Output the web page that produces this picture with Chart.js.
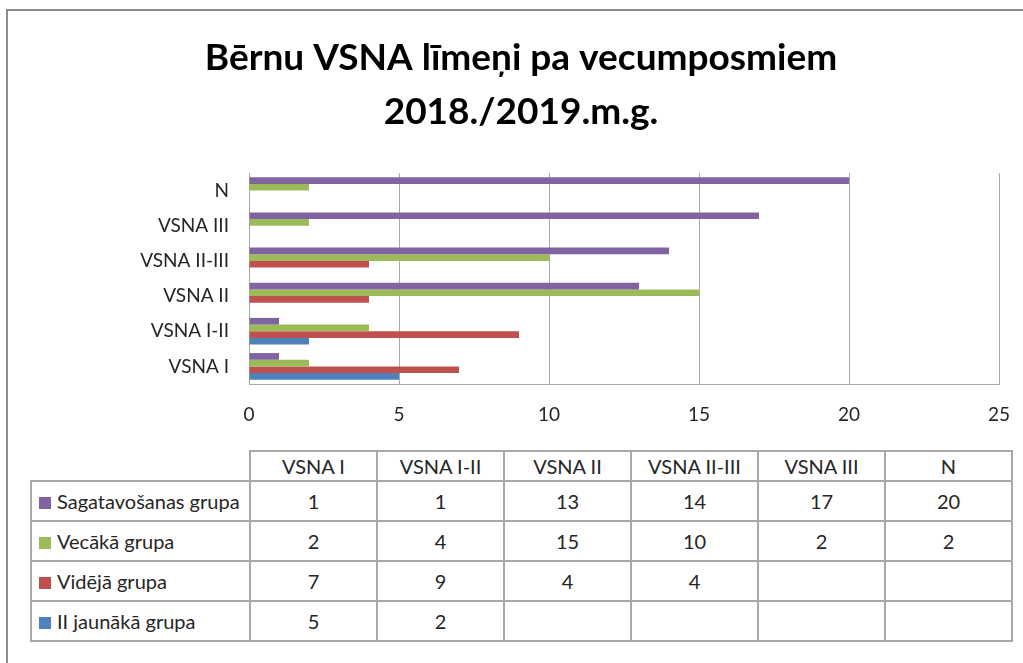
<!DOCTYPE html>
<html>
<head>
<meta charset="utf-8">
<script src="https://cdn.jsdelivr.net/npm/chart.js@4.4.6/dist/chart.umd.min.js"></script>
<style>
html, body { margin: 0; padding: 0; background: #fff; }
#page { position: relative; width: 1023px; height: 663px; overflow: hidden; font-family: Lato, sans-serif; }
#frame { position: absolute; left: 6px; top: 9px; width: 1100px; height: 700px; border-left: 2px solid #8c8c8c; border-top: 2px solid #8c8c8c; }
#chartBox { position: absolute; left: 0; top: 0; width: 1023px; height: 445px; }
#dataTable { position: absolute; left: 30px; top: 450px; border-collapse: collapse; table-layout: fixed; font-size: 20px; color: #262626; }
#dataTable td, #dataTable th { border: 2px solid #a8a8a8; padding: 0; font-weight: normal; text-align: center; white-space: nowrap; }
#dataTable th { height: 28px; }
#dataTable td { height: 38px; }
#dataTable th.blank { border-top: none; border-left: none; }
#dataTable td.name { text-align: left; padding-left: 7px; }
.key { display: inline-block; width: 12px; height: 12px; margin-right: 6px; vertical-align: 0px; }
</style>
</head>
<body>
<div id="page">
  <div id="frame"></div>
  <div id="chartBox"><canvas id="chart" width="1023" height="445"></canvas></div>
  <table id="dataTable"></table>
</div>
<script>
// kategorijas (no apakšas uz augšu) un grupu vērtības
const categories = ['VSNA I', 'VSNA I-II', 'VSNA II', 'VSNA II-III', 'VSNA III', 'N']
const seriesNames = ['Sagatavošanas grupa', 'Vecākā grupa', 'Vidējā grupa', 'II jaunākā grupa']
const sagatavosanas = [1, 1, 13, 14, 17, 20]
const vecaka = [2, 4, 15, 10, 2, 2]
const videja = [7, 9, 4, 4, null, null]
const jaunaka = [5, 2, null, null, null, null]
const seriesColors = ['#8064A2', '#9BBB59', '#C0504D', '#4F81BD']
const xMin = 0
const xMax = 25
const xStep = 5
const titleLines = ['Bērnu VSNA līmeņi pa vecumposmiem', '2018./2019.m.g.']

const seriesValues = [sagatavosanas, vecaka, videja, jaunaka]
const gridColor = '#a8a8a8'
const textColor = '#262626'

new Chart(document.getElementById('chart'), {
  type: 'bar',
  data: {
    labels: categories,
    datasets: seriesNames.map((name, i) => ({
      label: name,
      data: seriesValues[i],
      backgroundColor: seriesColors[i],
      borderWidth: 0,
      categoryPercentage: 0.76,
      barPercentage: 1.0
    }))
  },
  options: {
    indexAxis: 'y',
    responsive: false,
    animation: false,
    layout: { padding: { left: 43, right: 24, top: 0, bottom: 5 } },
    plugins: {
      legend: { display: false },
      tooltip: { enabled: false },
      title: {
        display: true,
        text: titleLines,
        color: '#000',
        font: { family: 'Lato', size: 37, weight: 'bold', lineHeight: 1.46 },
        padding: { top: 31, bottom: 34 }
      }
    },
    scales: {
      x: {
        min: xMin,
        max: xMax,
        ticks: { stepSize: xStep, color: textColor, font: { family: 'Lato', size: 19 }, padding: 19 },
        grid: { color: gridColor, lineWidth: 1, drawTicks: false },
        border: { color: gridColor, width: 1 },
        // etiķešu atkāpe nedrīkst sašaurināt zīmēšanas laukumu
        afterFit: s => { s.height = 56; s.paddingLeft = 0; s.paddingRight = 0 }
      },
      y: {
        reverse: true,
        ticks: { color: textColor, font: { family: 'Lato', size: 19 }, padding: 20 },
        grid: { display: false, drawTicks: false },
        border: { color: gridColor, width: 1 },
        afterFit: s => { s.width = 206 }
      }
    }
  }
})

// datu tabula zem diagrammas
const table = document.getElementById('dataTable')
const colgroup = document.createElement('colgroup')
colgroup.innerHTML = '<col style="width:219px">' + categories.map(() => '<col style="width:127px">').join('')
table.appendChild(colgroup)
const head = document.createElement('tr')
head.innerHTML = '<th class="blank"></th>' + categories.map(c => '<th>' + c + '</th>').join('')
table.appendChild(head)
seriesNames.forEach((name, i) => {
  const tr = document.createElement('tr')
  let html = '<td class="name"><span class="key" style="background:' + seriesColors[i] + '"></span>' + name + '</td>'
  seriesValues[i].forEach(v => { html += '<td>' + (v == null ? '' : v) + '</td>' })
  tr.innerHTML = html
  table.appendChild(tr)
})
</script>
</body>
</html>
